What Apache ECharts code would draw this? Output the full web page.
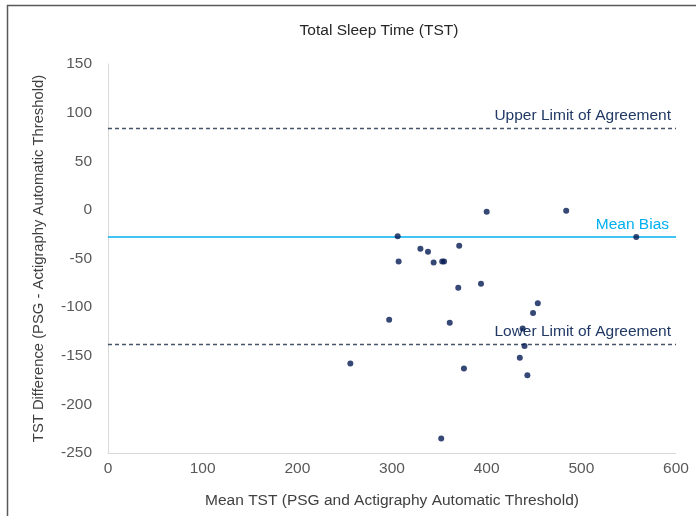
<!DOCTYPE html>
<html>
<head>
<meta charset="utf-8">
<script src="https://cdn.jsdelivr.net/npm/echarts@6/dist/echarts.min.js"></script>
<style>
html,body{margin:0;padding:0;background:#fff;}
#chart{width:696px;height:516px;}
</style>
</head>
<body>
<div id="chart"></div>
<script>
var titleText = 'Total Sleep Time (TST)';
var xAxisName = 'Mean TST (PSG and Actigraphy Automatic Threshold)';
var yAxisName = 'TST Difference (PSG - Actigraphy Automatic Threshold)';
var meanTST = [400, 484, 558, 306, 330, 338, 371, 307, 344, 353, 355, 370, 394, 297, 361, 256, 376, 352, 454, 449, 438, 440, 435, 443];
var tstDiff = [-2, -1, -28, -27, -40, -43, -37, -53, -54, -53, -53, -80, -76, -113, -116, -158, -163, -235, -96, -106, -122, -140, -152, -170];
var upperLimit = 84;
var meanBias = -28;
var lowerLimit = -138;
var upperLabel = 'Upper Limit of Agreement';
var biasLabel = 'Mean Bias';
var lowerLabel = 'Lower Limit of Agreement';

var points = meanTST.map(function(x, i){ return [x, tstDiff[i]]; });
var font = 'Liberation Sans, Arial, sans-serif';
var fs = 15.5;
var chart = echarts.init(document.getElementById('chart'), null, {renderer:'canvas'});
chart.setOption({
  animation:false,
  backgroundColor:'#fff',
  title:{text:titleText, left:374, top:18, textAlign:'center',
    textStyle:{fontFamily:font, fontSize:fs, fontWeight:'normal', color:'#262626'}},
  grid:{left:108, right:20, top:64, bottom:63, containLabel:false},
  graphic:[{type:'rect', shape:{x:7.5, y:5.5, width:700, height:520},
    style:{fill:'none', stroke:'#595959', lineWidth:1.5}, silent:true}],
  xAxis:{type:'value', min:0, max:600, interval:100,
    name:xAxisName, nameLocation:'middle', nameGap:40,
    nameTextStyle:{fontFamily:font, fontSize:fs, color:'#404040'},
    axisLine:{show:true, onZero:false, lineStyle:{color:'#d9d9d9', width:1}},
    axisTick:{show:false}, splitLine:{show:false},
    axisLabel:{fontFamily:font, fontSize:fs, color:'#595959', margin:8}},
  yAxis:{type:'value', min:-250, max:150, interval:50,
    name:yAxisName, nameLocation:'middle', nameGap:62,
    nameTextStyle:{fontFamily:font, fontSize:14.8, color:'#404040'},
    axisLine:{show:true, onZero:false, lineStyle:{color:'#d9d9d9', width:1}},
    axisTick:{show:false}, splitLine:{show:false},
    axisLabel:{fontFamily:font, fontSize:fs, color:'#595959', margin:16}},
  series:[{
    type:'scatter', data:points, symbol:'circle', symbolSize:6,
    itemStyle:{color:'#041a52'}, z:5,
    markLine:{silent:true, symbol:'none', animation:false,
      data:[
        {yAxis:upperLimit, lineStyle:{color:'#44546a', type:[4,3], width:1.3},
          label:{show:true, formatter:upperLabel, position:'insideEndTop', distance:[5,4],
            fontFamily:font, fontSize:fs, color:'#1f3864'}},
        {yAxis:meanBias, lineStyle:{color:'#00b0f0', type:'solid', width:1.5},
          label:{show:true, formatter:biasLabel, position:'insideEndTop', distance:[7,4],
            fontFamily:font, fontSize:fs, color:'#00b0f0'}},
        {yAxis:lowerLimit, lineStyle:{color:'#44546a', type:[4,3], width:1.3},
          label:{show:true, formatter:lowerLabel, position:'insideEndTop', distance:[5,4],
            fontFamily:font, fontSize:fs, color:'#1f3864'}}
      ]}
  }]
});
</script>
</body>
</html>
